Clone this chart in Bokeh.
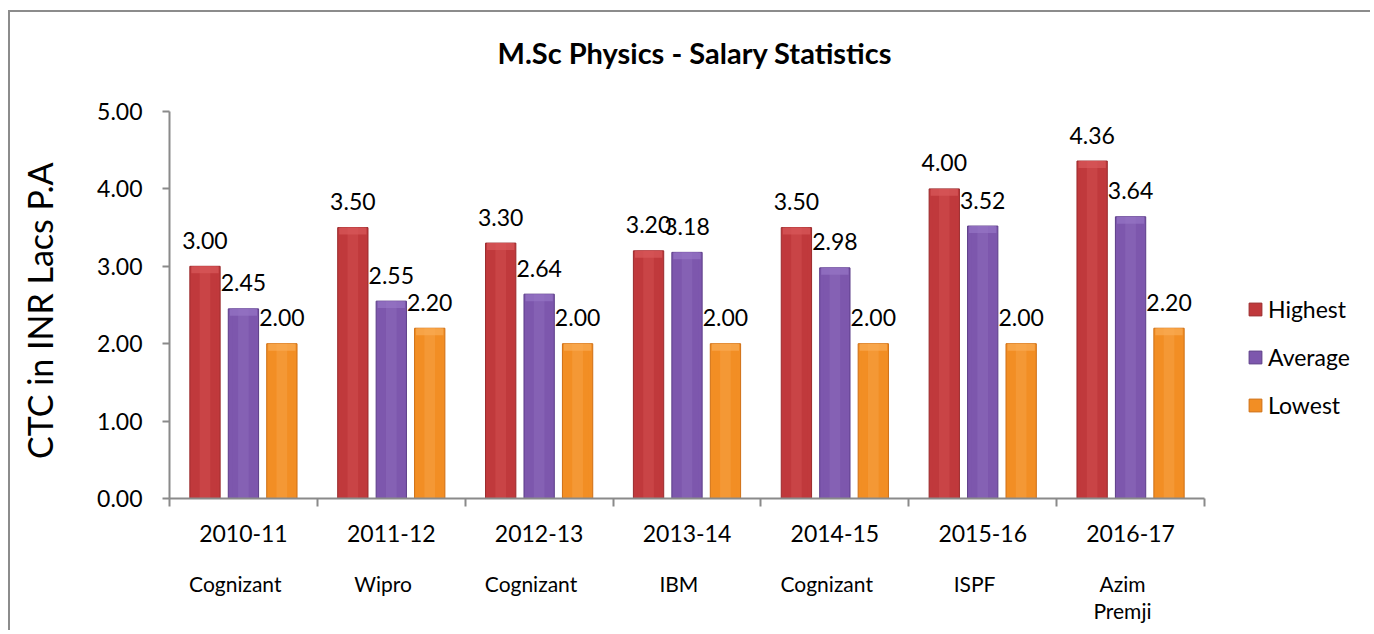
import numpy as np
from bokeh.plotting import figure
from bokeh.models import (Range1d, LinearAxis, FixedTicker, CustomJSTickFormatter,
                          Legend, LegendItem, ColumnDataSource)
from bokeh.core.properties import value
from bokeh.embed import file_html
from bokeh.resources import INLINE

# ---- data ----
years = ["2010-11", "2011-12", "2012-13", "2013-14", "2014-15", "2015-16", "2016-17"]
companies = ["Cognizant", "Wipro", "Cognizant", "IBM", "Cognizant", "ISPF", "Azim\nPremji"]
highest = [3.00, 3.50, 3.30, 3.20, 3.50, 4.00, 4.36]
average = [2.45, 2.55, 2.64, 3.18, 2.98, 3.52, 3.64]
lowest = [2.00, 2.20, 2.00, 2.00, 2.00, 2.00, 2.20]
series_names = ["Highest", "Average", "Lowest"]
y_ticks = [0, 1, 2, 3, 4, 5]

FONT = "Lato"
AXIS_GRAY = "#8a8a8a"
TXT = "#000000"

# colours: (edge/dark, mid, light)
palettes = [
    ("#9a2a2c", "#c0393c", "#d9585a"),
    ("#5c3d88", "#7d57ad", "#9675c4"),
    ("#cf6f14", "#f28e24", "#f9ad55"),
]
offsets = [-0.26, 0.0, 0.26]
BAR_W = 0.205

n = len(years)
centers = np.arange(n) + 0.5
y_axis_max = max(y_ticks)

# layout (pixels)
W, H = 1362, 620
LEFT, TOP, FRAME_H = 159, 68, 418
frame_w = W - LEFT
unit_px_x = 1035.0 / n
unit_px_y = 387.0 / y_axis_max

p = figure(width=W, height=H, output_backend="svg", toolbar_location=None,
           x_range=Range1d(0, frame_w / unit_px_x),
           y_range=Range1d(0, FRAME_H / unit_px_y),
           x_axis_location=None, y_axis_location=None,
           min_border_left=LEFT, min_border_right=0,
           min_border_top=TOP, min_border_bottom=H - TOP - FRAME_H)
p.styles = {"margin-left": "8px", "margin-top": "10px",
            "border-left": "2px solid #8c8c8c", "border-top": "2px solid #8c8c8c"}
p.outline_line_color = None
p.xgrid.visible = False
p.ygrid.visible = False
p.background_fill_color = "white"
p.border_fill_color = "white"

# title
p.title.text = "M.Sc Physics - Salary Statistics"
p.title.text_font = FONT
p.title.text_font_size = "29px"
p.title.text_font_style = "bold"
p.title.text_color = TXT
p.title.align = "left"
p.title.standoff = 21
p.title.offset = 497 - 169

# y axis (bounded to 0..5)
yax = LinearAxis(ticker=FixedTicker(ticks=y_ticks),
                 formatter=CustomJSTickFormatter(code="return tick.toFixed(2)"),
                 bounds=(0, y_axis_max))
# trailing no-break spaces keep the label centred on the 0-5 axis span
yax.axis_label = "CTC in INR Lacs P.A" + "\u00a0" * 5
yax.axis_label_text_font = FONT
yax.axis_label_text_font_size = "34px"
yax.axis_label_text_font_style = "normal"
yax.axis_label_text_color = TXT
yax.axis_label_standoff = 34
yax.major_label_text_font = FONT
yax.major_label_text_font_size = "23px"
yax.major_label_text_color = TXT
yax.major_label_standoff = 20
yax.major_tick_in = 0
yax.major_tick_out = 7
yax.minor_tick_line_color = None
yax.axis_line_color = AXIS_GRAY
yax.axis_line_width = 2
yax.major_tick_line_color = AXIS_GRAY
yax.major_tick_line_width = 2
p.add_layout(yax, "left")

# x axis: line + boundary ticks (bounded to the categories)
xax0 = LinearAxis(ticker=FixedTicker(ticks=list(range(n + 1))),
                  formatter=CustomJSTickFormatter(code="return ''"),
                  bounds=(0, n))
xax0.major_tick_in = 0
xax0.major_tick_out = 8
xax0.minor_tick_line_color = None
xax0.axis_line_color = AXIS_GRAY
xax0.axis_line_width = 2
xax0.major_tick_line_color = AXIS_GRAY
xax0.major_tick_line_width = 2
xax0.major_label_text_font_size = "1px"
xax0.major_label_standoff = 0
p.add_layout(xax0, "below")

# x axis: year labels
xax1 = LinearAxis(ticker=FixedTicker(ticks=list(centers)),
                  formatter=CustomJSTickFormatter(args=dict(labels=years),
                                                  code="return labels[Math.floor(tick)]"))
xax1.axis_line_color = None
xax1.major_tick_line_color = None
xax1.minor_tick_line_color = None
xax1.major_label_text_font = FONT
xax1.major_label_text_font_size = "23px"
xax1.major_label_text_color = TXT
xax1.major_label_standoff = 12
p.add_layout(xax1, "below")

# x axis: company labels (set slightly left of the category centre)
xax2 = LinearAxis(ticker=FixedTicker(ticks=list(centers - 0.055)),
                  formatter=CustomJSTickFormatter(args=dict(labels=companies),
                                                  code="return labels[Math.floor(tick)]"))
xax2.axis_line_color = None
xax2.major_tick_line_color = None
xax2.minor_tick_line_color = None
xax2.major_label_text_font = FONT
xax2.major_label_text_font_size = "21px"
xax2.major_label_text_color = TXT
xax2.major_label_text_line_height = 1.1
xax2.major_label_standoff = 20
p.add_layout(xax2, "below")

# bars
legend_items = []
for k, (vals, name) in enumerate(zip([highest, average, lowest], series_names)):
    dark, mid, light = palettes[k]
    xs = centers + offsets[k]
    src = ColumnDataSource(dict(x=xs, top=vals,
                                cap=[v - 0.09 for v in vals],
                                lab=["%.2f" % v for v in vals]))
    r = p.vbar(x="x", top="top", bottom=0, width=BAR_W, source=src,
               fill_color=mid, line_color=dark, line_width=1)
    p.vbar(x="x", top="top", bottom=0, width=BAR_W * 0.75, source=src,
           fill_color=mid, line_color=None)
    p.vbar(x="x", top="top", bottom=0, width=BAR_W * 0.35, source=src,
           fill_color=light, fill_alpha=0.35, line_color=None)
    p.vbar(x="x", top="top", bottom="cap", width=BAR_W * 0.9, source=src,
           fill_color=light, fill_alpha=0.7, line_color=None)
    p.text(x="x", y="top", text="lab", source=src, text_align="center",
           text_baseline="middle", y_offset=-26, text_font=value(FONT),
           text_font_size="23px", text_color=TXT)
    legend_items.append(LegendItem(label=name, renderers=[r]))

legend = Legend(items=legend_items, location=(1078, 79))
legend.label_text_font = FONT
legend.label_text_font_size = "23px"
legend.label_text_color = TXT
legend.glyph_width = 16
legend.glyph_height = 16
legend.label_standoff = 5
legend.spacing = 20
legend.padding = 0
legend.margin = 0
legend.border_line_color = None
legend.background_fill_alpha = 0
p.add_layout(legend)

open("out.html", "w").write(file_html(p, INLINE))
